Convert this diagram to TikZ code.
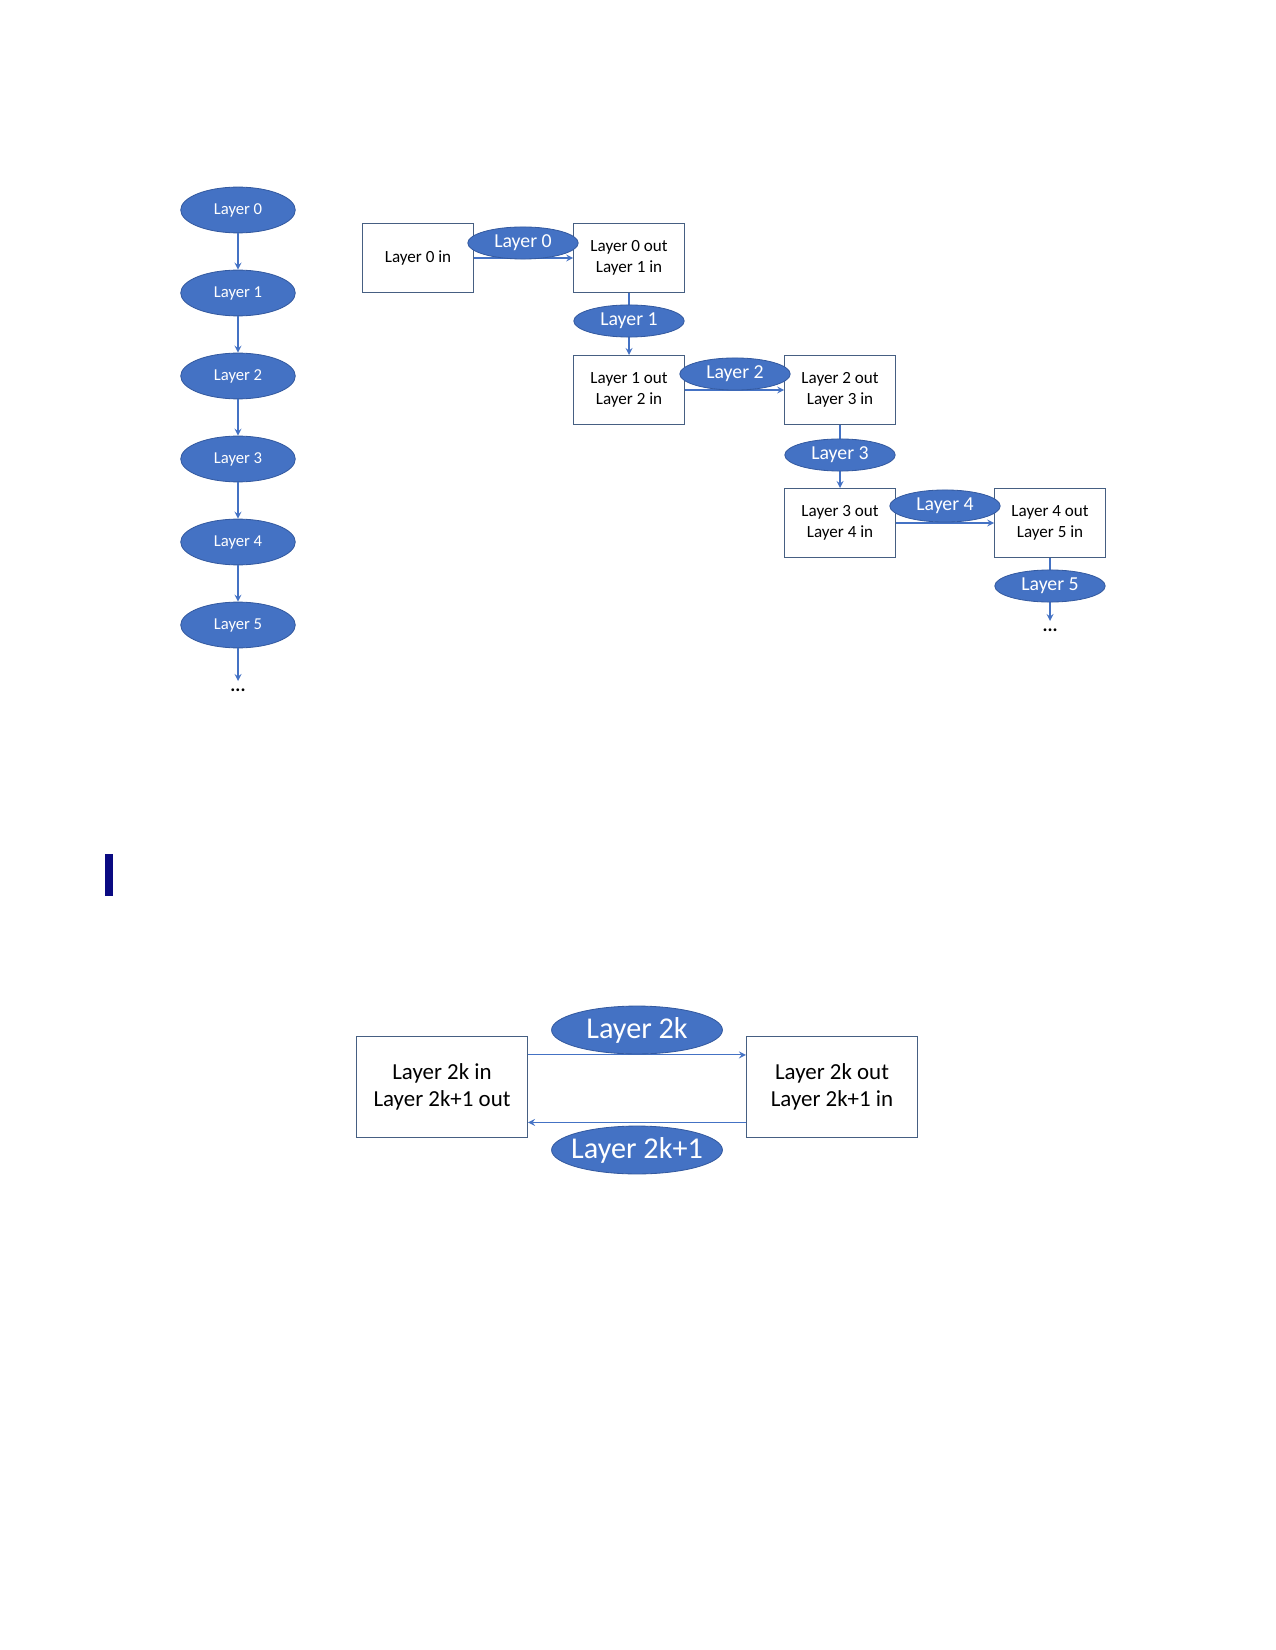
\documentclass[tikz,border=0pt]{standalone}
\usepackage{fontspec}
\setmainfont{Carlito}
\usepackage{tikz}
\usetikzlibrary{shapes.geometric, positioning, arrows}

\definecolor{layerblue}{RGB}{68,114,196}
\definecolor{layeredge}{RGB}{52,90,160}
\definecolor{boxedge}{RGB}{70,95,130}
\definecolor{barblue}{RGB}{10,10,130}

\begin{document}
\begin{tikzpicture}[x=0.48pt, y=-0.48pt,
    layer/.style={ellipse, fill=layerblue, draw=layeredge, line width=0.4pt, text=white, inner sep=0pt},
    buf/.style={rectangle, draw=boxedge, line width=0.6pt, fill=white, inner sep=0pt, align=center},
    flow/.style={draw=layerblue, line width=0.5pt, -stealth}]
        \useasboundingbox (0,-2) rectangle (1275,1648);

        % plain stack of layers
        \foreach \i in {0,...,5} {
            \pgfmathsetmacro\yy{208 + \i*83}
            \node[layer, minimum width=55pt, minimum height=22pt, font=\fontsize{8}{9}\selectfont] (L\i) at (238,\yy) {Layer \i};
        }
        \foreach \i [count=\j] in {0,...,4} {
            \draw[flow] (L\i) -- (L\j);
        }
        \coordinate (Lend) at (238,679);
        \draw[flow] (L5) -- (Lend);
        \node[font=\fontsize{9}{10}\selectfont\bfseries, inner sep=0pt] (Ldots) at (238,688) {...};

        % buffers between layers
        \tikzset{chainbuf/.style={buf, minimum width=53pt, minimum height=33pt, font=\fontsize{8.2}{10}\selectfont}}
        \node[chainbuf] (B0) at (418,256) {Layer 0 in};
        \node[chainbuf] (B1) at (629,256) {Layer 0 out\\Layer 1 in};
        \node[chainbuf] (B2) at (629,388) {Layer 1 out\\Layer 2 in};
        \node[chainbuf] (B3) at (840,388) {Layer 2 out\\Layer 3 in};
        \node[chainbuf] (B4) at (840,521) {Layer 3 out\\Layer 4 in};
        \node[chainbuf] (B5) at (1050,521) {Layer 4 out\\Layer 5 in};
        \draw[flow] (B0) -- (B1);
        \draw[flow] (B1) -- (B2);
        \draw[flow] (B2) -- (B3);
        \draw[flow] (B3) -- (B4);
        \draw[flow] (B4) -- (B5);
        \coordinate (Bend) at (1050,619);
        \draw[flow] (B5) -- (Bend);
        \node[font=\fontsize{9}{10}\selectfont\bfseries, inner sep=0pt] (Bdots) at (1050,628) {...};

        \tikzset{chainlayer/.style={layer, minimum width=53pt, minimum height=15.4pt, font=\fontsize{9.5}{10}\selectfont}}
        \node[chainlayer] (E0) at (523,241) {Layer 0};
        \node[chainlayer] (E1) at (629,319) {Layer 1};
        \node[chainlayer] (E2) at (735,372) {Layer 2};
        \node[chainlayer] (E3) at (840,453) {Layer 3};
        \node[chainlayer] (E4) at (945,504) {Layer 4};
        \node[chainlayer] (E5) at (1050,584) {Layer 5};

        % bar
        \fill[barblue] (105,852) rectangle (113,894);

        % two buffers, ping-pong
        \tikzset{pairbuf/.style={buf, minimum width=82pt, minimum height=48.5pt, font=\fontsize{11}{12.6}\selectfont}}
        \node[pairbuf] (K0) at (442,1085) {Layer 2k in\\Layer 2k+1 out};
        \node[pairbuf] (K1) at (832,1085) {Layer 2k out\\Layer 2k+1 in};
        \draw[flow] ([yshift=15.4pt]K0.east) -- ([yshift=15.4pt]K1.west);
        \draw[flow] ([yshift=-17pt]K1.west) -- ([yshift=-17pt]K0.east);

        \tikzset{pairlayer/.style={layer, minimum width=82pt, minimum height=23pt, inner xsep=-6pt, font=\fontsize{14.5}{16}\selectfont}}
        \node[pairlayer] (P0) at (637,1028) {Layer 2k};
        \node[pairlayer] (P1) at (637,1148) {Layer 2k+1};
    \end{tikzpicture}
\end{document}
